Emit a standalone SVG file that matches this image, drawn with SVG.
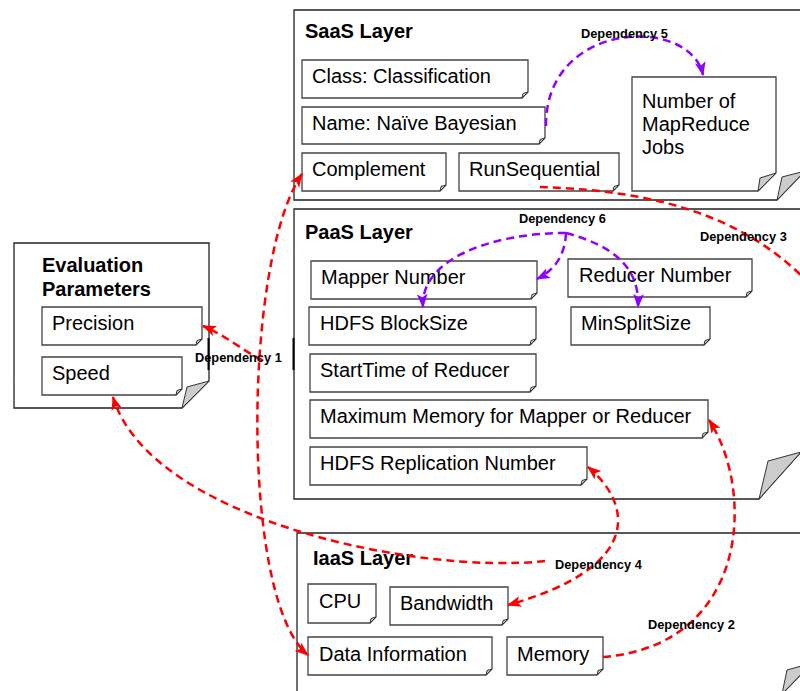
<svg xmlns="http://www.w3.org/2000/svg" width="800" height="691" viewBox="0 0 800 691">
<defs>
<style>
.layer{fill:#fff;stroke:#222;stroke-width:1.3}
.box{fill:#fff;stroke:#444;stroke-width:1.3}
.fold{fill:#ccc;stroke:#333;stroke-width:1}
.t{font-family:"Liberation Sans",Arial,sans-serif;font-size:20px;fill:#000}
.h{font-weight:bold}
.d{font-family:"Liberation Sans",Arial,sans-serif;font-size:12.8px;font-weight:bold;fill:#000}
.red{fill:none;stroke:#f00;stroke-width:2.5;stroke-dasharray:8 5}
.pur{fill:none;stroke:#8f00ff;stroke-width:2.5;stroke-dasharray:8 5}
</style>
<marker id="ar" markerUnits="userSpaceOnUse" markerWidth="14" markerHeight="12" viewBox="0 0 13 10" refX="12" refY="5" orient="auto-start-reverse"><path d="M0,0 L13,5 L0,10 L3,5 z" fill="#f00"/></marker>
<marker id="ap" markerUnits="userSpaceOnUse" markerWidth="14" markerHeight="12" viewBox="0 0 13 10" refX="12" refY="5" orient="auto-start-reverse"><path d="M0,0 L13,5 L0,10 L3,5 z" fill="#8f00ff"/></marker>
</defs>

<g id="saas">
<path class="layer" d="M294,10 H805 V171 L777,200 H294 Z"/>
<polygon class="fold" points="777,200 782,177 805,171"/>
<text class="t h" x="305" y="38">SaaS Layer</text>
</g>
<g id="paas">
<path class="layer" d="M294,209 H801 V452 L759,499 H294 Z"/>
<polygon class="fold" points="759,499 768,461 801,452"/>
<text class="t h" x="305" y="238.5">PaaS Layer</text>
</g>
<g id="iaas">
<path class="layer" d="M297,533 H812 V663 L782,694 H297 Z"/>
<polygon class="fold" points="782,694 787,670 812,663"/>
<text class="t h" x="313" y="565">IaaS Layer</text>
</g>
<g id="eval">
<path class="layer" d="M14,243 H209 V381 L182,408 H14 Z"/>
<polygon class="fold" points="182,408 187,387 209,381"/>
<text class="t h" x="42" y="272">Evaluation</text>
<text class="t h" x="42" y="296">Parameters</text>
<line x1="208.5" y1="338" x2="208.5" y2="370" stroke="#000" stroke-width="2"/>
<line x1="293.5" y1="338" x2="293.5" y2="370" stroke="#000" stroke-width="2"/>
</g>

<g id="precision"><path class="box" d="M42,307 H202 V339 L196,345 H42 Z"/><polygon class="fold" points="196,345 197,340.5 202,339"/><text class="t" x="52" y="330">Precision</text></g>
<g id="speed"><path class="box" d="M42,357 H182 V389 L176,395 H42 Z"/><polygon class="fold" points="176,395 177,390.5 182,389"/><text class="t" x="52" y="380">Speed</text></g>

<g id="class"><path class="box" d="M302,60 H528 V92 L522,98 H302 Z"/><polygon class="fold" points="522,98 523,93.5 528,92"/><text class="t" x="312" y="83">Class: Classification</text></g>
<g id="name"><path class="box" d="M302,107 H545 V138 L539,144 H302 Z"/><polygon class="fold" points="539,144 540,139.5 545,138"/><text class="t" x="312" y="129.5">Name: Naïve Bayesian</text></g>
<g id="complement"><path class="box" d="M302,153 H446 V185 L440,191 H302 Z"/><polygon class="fold" points="440,191 441,186.5 446,185"/><text class="t" x="312" y="176">Complement</text></g>
<g id="runsequential"><path class="box" d="M459,153 H619 V185 L613,191 H459 Z"/><polygon class="fold" points="613,191 614,186.5 619,185"/><text class="t" x="469" y="176">RunSequential</text></g>
<g id="mrjobs"><path class="box" d="M632,77 H776 V173 L758,191 H632 Z"/><polygon class="fold" points="758,191 760,178 776,173"/><text class="t" x="642" y="108">Number of</text><text class="t" x="642" y="131">MapReduce</text><text class="t" x="642" y="154">Jobs</text></g>

<g id="mapper"><path class="box" d="M311,261 H537 V293 L531,299 H311 Z"/><polygon class="fold" points="531,299 532,294.5 537,293"/><text class="t" x="321" y="284">Mapper Number</text></g>
<g id="reducer"><path class="box" d="M568,259 H752 V291 L746,297 H568 Z"/><polygon class="fold" points="746,297 747,292.5 752,291"/><text class="t" x="579" y="282">Reducer Number</text></g>
<g id="blocksize"><path class="box" d="M309,307 H536 V339 L530,345 H309 Z"/><polygon class="fold" points="530,345 531,340.5 536,339"/><text class="t" x="320" y="330">HDFS BlockSize</text></g>
<g id="minsplit"><path class="box" d="M571,307 H710 V339 L704,345 H571 Z"/><polygon class="fold" points="704,345 705,340.5 710,339"/><text class="t" x="581" y="330">MinSplitSize</text></g>
<g id="starttime"><path class="box" d="M310,354 H536 V386 L530,392 H310 Z"/><polygon class="fold" points="530,392 531,387.5 536,386"/><text class="t" x="320" y="377">StartTime of Reducer</text></g>
<g id="maxmem"><path class="box" d="M310,400 H708 V432 L702,438 H310 Z"/><polygon class="fold" points="702,438 703,433.5 708,432"/><text class="t" x="320" y="423">Maximum Memory for Mapper or Reducer</text></g>
<g id="replication"><path class="box" d="M310,447 H587 V479 L581,485 H310 Z"/><polygon class="fold" points="581,485 582,480.5 587,479"/><text class="t" x="320" y="470">HDFS Replication Number</text></g>

<g id="cpu"><path class="box" d="M308,584 H376 V617 L370,623 H308 Z"/><polygon class="fold" points="370,623 371,618.5 376,617"/><text class="t" x="319" y="608">CPU</text></g>
<g id="bandwidth"><path class="box" d="M390,587 H508 V619 L502,625 H390 Z"/><polygon class="fold" points="502,625 503,620.5 508,619"/><text class="t" x="400" y="610">Bandwidth</text></g>
<g id="datainfo"><path class="box" d="M308,637 H492 V669 L486,675 H308 Z"/><polygon class="fold" points="486,675 487,670.5 492,669"/><text class="t" x="319" y="661">Data Information</text></g>
<g id="memory"><path class="box" d="M507,637 H603 V669 L597,675 H507 Z"/><polygon class="fold" points="597,675 598,670.5 603,669"/><text class="t" x="517" y="661">Memory</text></g>

<g id="connectors">
<path class="red" d="M302,174 C243,260 240,600 308,655" marker-start="url(#ar)" marker-end="url(#ar)"/>
<path class="red" d="M262,360 C245,352 225,335 203,326" marker-end="url(#ar)"/>
<path class="red" d="M545,561 C420,575 150,520 113,397" marker-end="url(#ar)"/>
<path class="red" d="M588,467 C628,500 650,565 508,605" marker-start="url(#ar)" marker-end="url(#ar)"/>
<path class="red" d="M603,657 C750,645 755,490 709,420" marker-end="url(#ar)"/>
<path class="red" d="M540,187 C630,190 740,205 815,290"/>
<path class="pur" d="M546,126 C545,20 690,15 703,75" marker-end="url(#ap)"/>
<path class="pur" d="M566,233 C490,233 420,260 423,307" marker-end="url(#ap)"/>
<path class="pur" d="M566,233 C565,255 555,270 537,279" marker-end="url(#ap)"/>
<path class="pur" d="M566,233 C610,245 640,265 638,307" marker-end="url(#ap)"/>
<text class="d" x="195" y="362">Dependency 1</text>
<text class="d" x="648" y="629">Dependency 2</text>
<text class="d" x="700" y="241">Dependency 3</text>
<text class="d" x="555" y="569">Dependency 4</text>
<text class="d" x="581" y="38">Dependency 5</text>
<text class="d" x="519" y="223">Dependency 6</text>
</g>
</svg>
